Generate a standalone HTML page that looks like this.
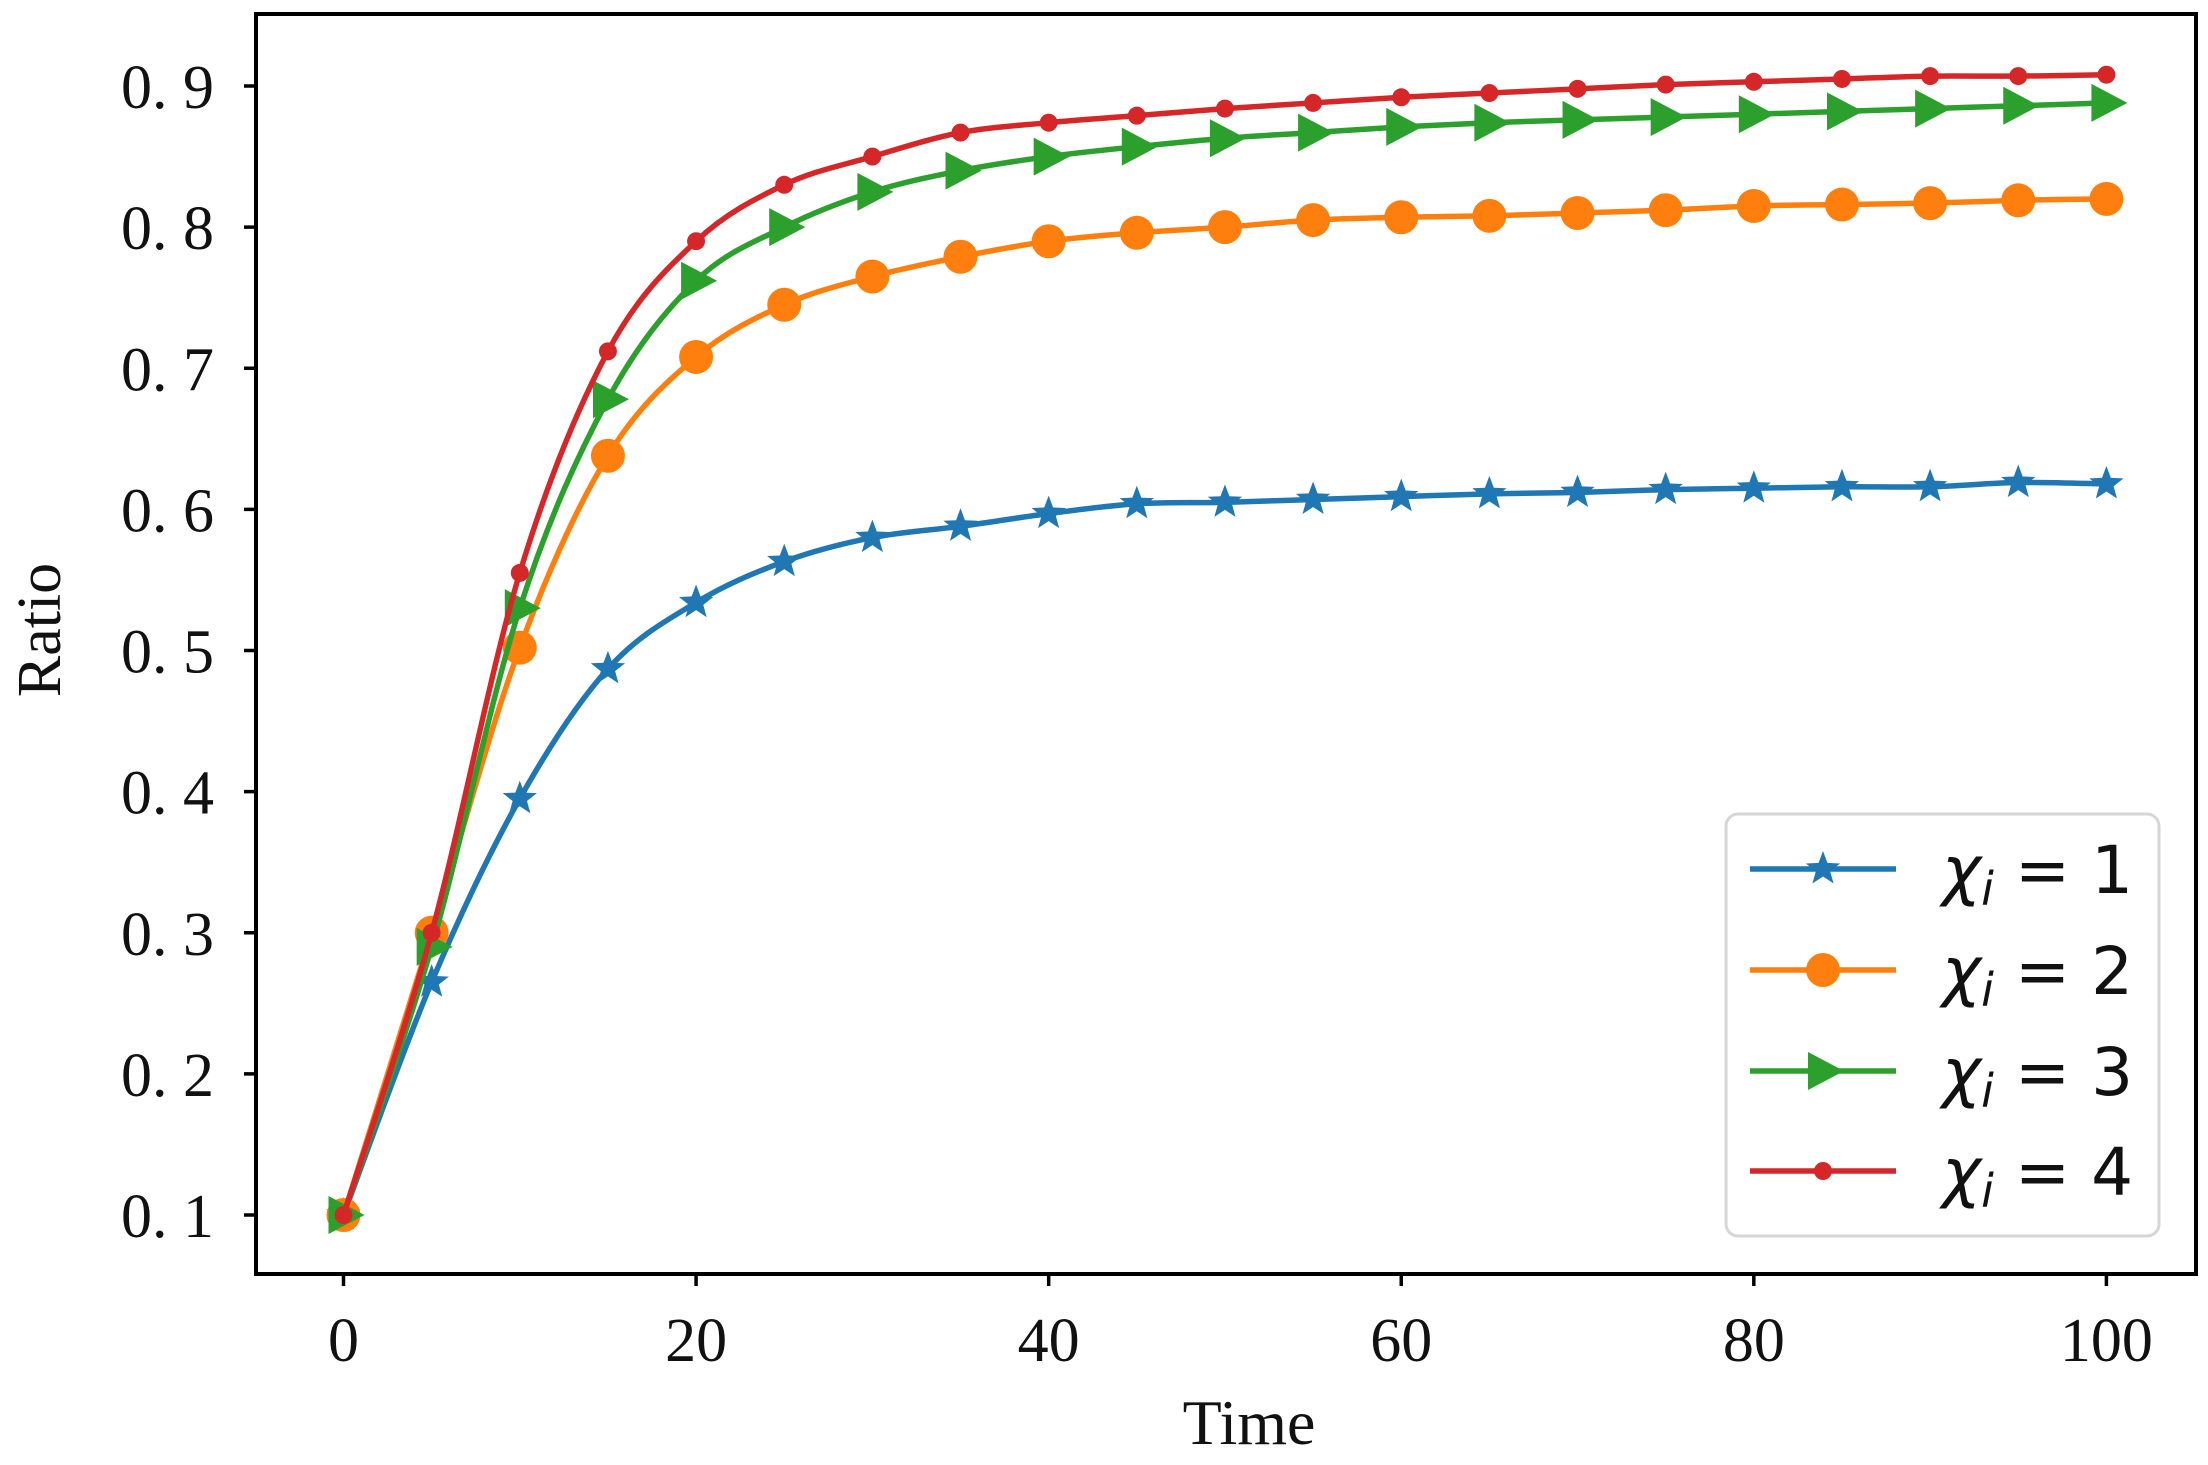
<!DOCTYPE html>
<html><head><meta charset="utf-8"><style>
html,body{margin:0;padding:0;background:#fff;}
svg{display:block;}
</style></head><body>
<svg id="chart" width="2208" height="1465" viewBox="0 0 2208 1465" xmlns="http://www.w3.org/2000/svg">
<rect x="0" y="0" width="2208" height="1465" fill="#fff"/>
<g id="plot"></g>
<g id="axes"></g>
<g id="legend"></g>
</svg>
<script>
const times = [0,5,10,15,20,25,30,35,40,45,50,55,60,65,70,75,80,85,90,95,100];
const series1 = [0.1,0.265,0.395,0.487,0.534,0.563,0.580,0.588,0.597,0.604,0.605,0.607,0.609,0.611,0.612,0.614,0.615,0.616,0.616,0.619,0.618];
const series2 = [0.1,0.300,0.502,0.638,0.708,0.745,0.765,0.779,0.790,0.796,0.800,0.805,0.807,0.808,0.810,0.812,0.815,0.816,0.817,0.819,0.820];
const series3 = [0.1,0.290,0.530,0.678,0.762,0.800,0.825,0.840,0.850,0.857,0.863,0.867,0.871,0.874,0.876,0.878,0.880,0.882,0.884,0.886,0.888];
const series4 = [0.1,0.300,0.555,0.712,0.790,0.830,0.850,0.867,0.874,0.879,0.884,0.888,0.892,0.895,0.898,0.901,0.903,0.905,0.907,0.907,0.908];
const xTicks = [0,20,40,60,80,100];
const yTicks = [0.1,0.2,0.3,0.4,0.5,0.6,0.7,0.8,0.9];
const yTickLabels = ["0. 1","0. 2","0. 3","0. 4","0. 5","0. 6","0. 7","0. 8","0. 9"];
const legendLabels = ["1","2","3","4"];

const NS="http://www.w3.org/2000/svg";
const L=256,R=2196,T=14,B=1274;
function xs(t){return 343.5+(t-0)*(2106.4-343.5)/100;}
function ys(v){return 1215+(v-0.1)*(86-1215)/0.8;}
function mk(tag,attrs,parent){const e=document.createElementNS(NS,tag);for(const k in attrs)e.setAttribute(k,attrs[k]);parent.appendChild(e);return e;}
const plot=document.getElementById('plot'),axes=document.getElementById('axes'),legend=document.getElementById('legend');

function curve(pts){
  let d=`M${pts[0][0]},${pts[0][1]}`;
  for(let i=0;i<pts.length-1;i++){
    const p0=pts[Math.max(0,i-1)],p1=pts[i],p2=pts[i+1],p3=pts[Math.min(pts.length-1,i+2)];
    const c1=[p1[0]+(p2[0]-p0[0])/6,p1[1]+(p2[1]-p0[1])/6];
    const c2=[p2[0]-(p3[0]-p1[0])/6,p2[1]-(p3[1]-p1[1])/6];
    d+=` C${c1[0]},${c1[1]} ${c2[0]},${c2[1]} ${p2[0]},${p2[1]}`;
  }
  return d;
}
function starPath(cx,cy,r){
  let d='';for(let i=0;i<10;i++){const a=-Math.PI/2+i*Math.PI/5;const rr=i%2?r*0.42:r;d+=(i?'L':'M')+(cx+rr*Math.cos(a))+','+(cy+rr*Math.sin(a));}return d+'Z';
}
function marker(kind,cx,cy,color,parent,name){
  let e;
  if(kind==='star')e=mk('path',{d:starPath(cx,cy,18),fill:color},parent);
  else if(kind==='circle')e=mk('circle',{cx:cx,cy:cy,r:17,fill:color},parent);
  else if(kind==='tri')e=mk('path',{d:`M${cx-15},${cy-19} L${cx+21},${cy} L${cx-15},${cy+19} Z`,fill:color},parent);
  else e=mk('circle',{cx:cx,cy:cy,r:9,fill:color},parent);
  
  
  return e;
}
const defs=[
 {vals:series1,color:'#1f77b4',kind:'star',name:'series-chi-1'},
 {vals:series2,color:'#ff7f0e',kind:'circle',name:'series-chi-2'},
 {vals:series3,color:'#2ca02c',kind:'tri',name:'series-chi-3'},
 {vals:series4,color:'#d62728',kind:'dot',name:'series-chi-4'}
];
defs.forEach(s=>{
  const g=mk('g',{},plot);
  
  
  const pts=times.map((t,i)=>[xs(t),ys(s.vals[i])]);
  const p=mk('path',{d:curve(pts),fill:'none',stroke:s.color,'stroke-width':5.5,'stroke-linejoin':'round'},g);
  
  
  pts.forEach(pt=>marker(s.kind,pt[0],pt[1],s.color,g,s.name+'-marker'));
});
const frame=mk('rect',{x:L,y:T,width:R-L,height:B-T,fill:'none',stroke:'#000','stroke-width':4},axes);


const serif='"Liberation Serif", "DejaVu Serif", serif';
yTicks.forEach((v,i)=>{
  const y=ys(v);
  const tk=mk('line',{x1:L-12,x2:L,y1:y,y2:y,stroke:'#000','stroke-width':3.5},axes);
  
  
  const tx=mk('text',{x:214,y:y+22,'text-anchor':'end','font-family':serif,'font-size':62,fill:'#111'},axes);
  tx.textContent=yTickLabels[i];
  
  
});
xTicks.forEach(t=>{
  const x=xs(t);
  const tk=mk('line',{x1:x,x2:x,y1:B,y2:B+12,stroke:'#000','stroke-width':3.5},axes);
  
  
  const tx=mk('text',{x:x,y:1361,'text-anchor':'middle','font-family':serif,'font-size':62,fill:'#111'},axes);
  tx.textContent=String(t);
  
  
});
const xt=mk('text',{x:1249,y:1444,'text-anchor':'middle','font-family':serif,'font-size':64,fill:'#111'},axes);
xt.textContent='Time';


const yt=mk('text',{x:0,y:0,'text-anchor':'middle','font-family':serif,'font-size':62,fill:'#111',transform:'translate(60,630) rotate(-90)'},axes);
yt.textContent='Ratio';


const box=mk('rect',{x:1726,y:814,width:433,height:422,rx:12,fill:'#fff','fill-opacity':0.85,stroke:'#d6d6d6','stroke-width':3},legend);


const ly=[869,970,1071,1171];
defs.forEach((s,i)=>{
  const g=mk('g',{},legend);
  
  
  const ln=mk('line',{x1:1750,x2:1896,y1:ly[i],y2:ly[i],stroke:s.color,'stroke-width':5.5},g);
  
  
  marker(s.kind,1823,ly[i],s.color,g,'legend-marker');
  const tx=mk('text',{x:1942,y:ly[i]+24,'font-family':'"DejaVu Sans", sans-serif','font-size':66,fill:'#111'},g);
  tx.innerHTML='<tspan font-style="italic">χ</tspan><tspan font-style="italic" font-size="46" dy="12">i</tspan><tspan dy="-12"> = '+legendLabels[i]+'</tspan>';
  
  
});
</script>
</body></html>
